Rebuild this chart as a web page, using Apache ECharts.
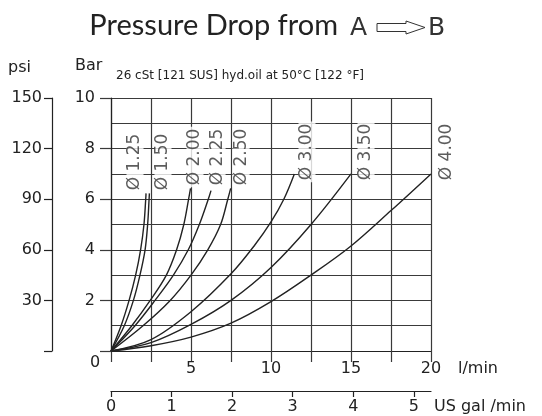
<!DOCTYPE html>
<html>
<head>
<meta charset="utf-8">
<script src="https://cdn.jsdelivr.net/npm/echarts@6/dist/echarts.min.js"></script>
<style>
  html, body { margin: 0; padding: 0; background: #fff; }
  #chart { width: 542px; height: 416px; }
</style>
</head>
<body>
<div id="chart"></div>
<script>
// orifice sizes and curves [flow l/min, pressure drop bar]
var diameters = ['1.25', '1.50', '2.00', '2.25', '2.50', '3.00', '3.50', '4.00'];
var d125 = [[0, 0], [0.63, 1], [1.13, 2], [1.54, 3], [1.85, 4], [2.06, 5], [2.17, 6], [2.19, 6.23]];
var d150 = [[0, 0], [0.83, 1], [1.4, 2], [1.81, 3], [2.13, 4], [2.29, 5], [2.38, 6], [2.4, 6.23]];
var d200 = [[0, 0], [1.3, 1], [2.45, 2], [3.46, 3], [4.1, 4], [4.55, 5], [4.85, 6], [4.97, 6.43]];
var d225 = [[0, 0], [1.5, 1], [2.75, 2], [3.9, 3], [4.83, 4], [5.52, 5], [6.08, 6], [6.25, 6.34]];
var d250 = [[0, 0], [2.0, 1], [3.7, 2], [5.0, 3], [6.05, 4], [6.85, 5], [7.3, 6], [7.48, 6.43]];
var d300 = [[0, 0], [2.5, 0.45], [5, 1.55], [7.5, 3.05], [9, 4.2], [10, 5.1], [10.8, 6], [11.46, 7]];
var d350 = [[0, 0], [2.5, 0.33], [5, 1.05], [7.5, 2.0], [10, 3.3], [12.5, 5.0], [15, 7]];
var d400 = [[0, 0], [2.5, 0.21], [5, 0.55], [7.5, 1.1], [10, 1.95], [12.5, 3.0], [15, 4.15], [17.5, 5.55], [20, 7]];
var curves = [d125, d150, d200, d225, d250, d300, d350, d400];

var galTicks = [0, 1, 2, 3, 4, 5];
var LPM_PER_GAL = 3.785;

// where the size labels sit (axis units)
var labelAt = [[1.5, 7.47], [3.25, 7.47], [5.25, 7.67], [6.63, 7.67], [8.13, 7.67],
               [12.25, 7.87], [15.94, 7.87], [21.0, 7.87]];

var ink = '#222';
var gridCol = '#3a3a3a';
var font = 'DejaVu Sans';

var series = curves.map(function (c, i) {
    return {
        name: 'Ø ' + diameters[i],
        type: 'line',
        data: c,
        smooth: 0.35,
        symbol: 'none',
        lineStyle: { color: ink, width: 1.4 },
        z: 3
    };
});
series.push({
    type: 'scatter',
    clip: false,
    symbolSize: 1,
    itemStyle: { color: 'rgba(0,0,0,0)' },
    data: labelAt.map(function (p, i) { return [p[0], p[1], diameters[i]]; }),
    label: {
        show: true,
        position: 'inside',
        rotate: 90,
        formatter: function (p) { return 'Ø ' + p.data[2]; },
        fontFamily: font,
        fontSize: 17,
        color: '#333',
        backgroundColor: '#fff',
        padding: [0, 2]
    },
    z: 5
});

var option = {
    animation: false,
    backgroundColor: '#fff',
    grid: { left: 111, top: 98, width: 320, height: 253 },
    xAxis: [{
        type: 'value', min: 0, max: 20, interval: 2.5,
        axisLine: { show: true, onZero: false, lineStyle: { color: ink, width: 1.2 } },
        axisTick: { show: true, length: 11, lineStyle: { color: gridCol, width: 1.2 } },
        axisLabel: {
            margin: 10, color: ink, fontFamily: font, fontSize: 16,
            formatter: function (v) { return (v > 0 && v % 5 === 0) ? v : ''; }
        },
        splitLine: { lineStyle: { color: gridCol, width: 1.2 } }
    }, {
        type: 'value', position: 'bottom', offset: 40,
        min: 0, max: 20 / LPM_PER_GAL,
        axisLine: { show: true, onZero: false, lineStyle: { color: ink, width: 1.2 } },
        axisTick: { show: true, length: 6, customValues: galTicks, lineStyle: { color: ink, width: 1.2 } },
        axisLabel: { margin: 8, customValues: galTicks, color: ink, fontFamily: font, fontSize: 16 },
        splitLine: { show: false }
    }],
    yAxis: [{
        type: 'value', min: 0, max: 10, interval: 2,
        axisLine: { show: true, onZero: false, lineStyle: { color: ink, width: 1.2 } },
        axisTick: { show: true, length: 11, lineStyle: { color: gridCol, width: 1.2 } },
        axisLabel: {
            margin: 16, color: ink, fontFamily: font, fontSize: 16,
            formatter: function (v) { return v > 0 ? v : ''; }
        },
        splitLine: { lineStyle: { color: gridCol, width: 1.2 } },
        minorTick: { show: false, splitNumber: 2 },
        minorSplitLine: { show: true, lineStyle: { color: gridCol, width: 1.2 } }
    }, {
        type: 'value', position: 'left', offset: 59,
        min: 0, max: 150, interval: 30,
        axisLine: { show: true, onZero: false, lineStyle: { color: ink, width: 1.2 } },
        axisTick: { show: true, length: 8, lineStyle: { color: ink, width: 1.2 } },
        axisLabel: {
            margin: 10, color: ink, fontFamily: font, fontSize: 16,
            formatter: function (v) { return v > 0 ? v : ''; }
        },
        splitLine: { show: false }
    }],
    graphic: [
        { type: 'text', x: 338, y: 26, style: { text: 'Pressure Drop from', font: '29px Lato', fill: ink, textAlign: 'right', textVerticalAlign: 'middle' } },
        { type: 'text', x: 350, y: 28, style: { text: 'A', font: '25px "DejaVu Sans"', fill: '#333', textAlign: 'left', textVerticalAlign: 'middle' } },
        { type: 'polygon', shape: { points: [[377, 23.5], [406, 23.5], [406, 21], [425, 27.5], [406, 34], [406, 31.5], [377, 31.5]] },
          style: { fill: '#fff', stroke: '#333', lineWidth: 1 } },
        { type: 'text', x: 428, y: 28, style: { text: 'B', font: '25px "DejaVu Sans"', fill: '#333', textAlign: 'left', textVerticalAlign: 'middle' } },
        { type: 'text', x: 8, y: 68, style: { text: 'psi', font: '16px "DejaVu Sans"', fill: ink, textVerticalAlign: 'middle' } },
        { type: 'text', x: 75, y: 66, style: { text: 'Bar', font: '16px "DejaVu Sans"', fill: ink, textVerticalAlign: 'middle' } },
        { type: 'text', x: 116, y: 76, style: { text: '26 cSt [121 SUS] hyd.oil at 50°C [122 °F]', font: '12px "DejaVu Sans"', fill: ink, textVerticalAlign: 'middle' } },
        { type: 'text', x: 95, y: 363, style: { text: '0', font: '16px "DejaVu Sans"', fill: ink, textAlign: 'center', textVerticalAlign: 'middle' } },
        { type: 'text', x: 458, y: 369, style: { text: 'l/min', font: '16px "DejaVu Sans"', fill: ink, textVerticalAlign: 'middle' } },
        { type: 'text', x: 434, y: 407, style: { text: 'US gal /min', font: '16px "DejaVu Sans"', fill: ink, textVerticalAlign: 'middle' } }
    ],
    series: series
};

var chart = echarts.init(document.getElementById('chart'));
chart.setOption(option);
</script>
</body>
</html>
